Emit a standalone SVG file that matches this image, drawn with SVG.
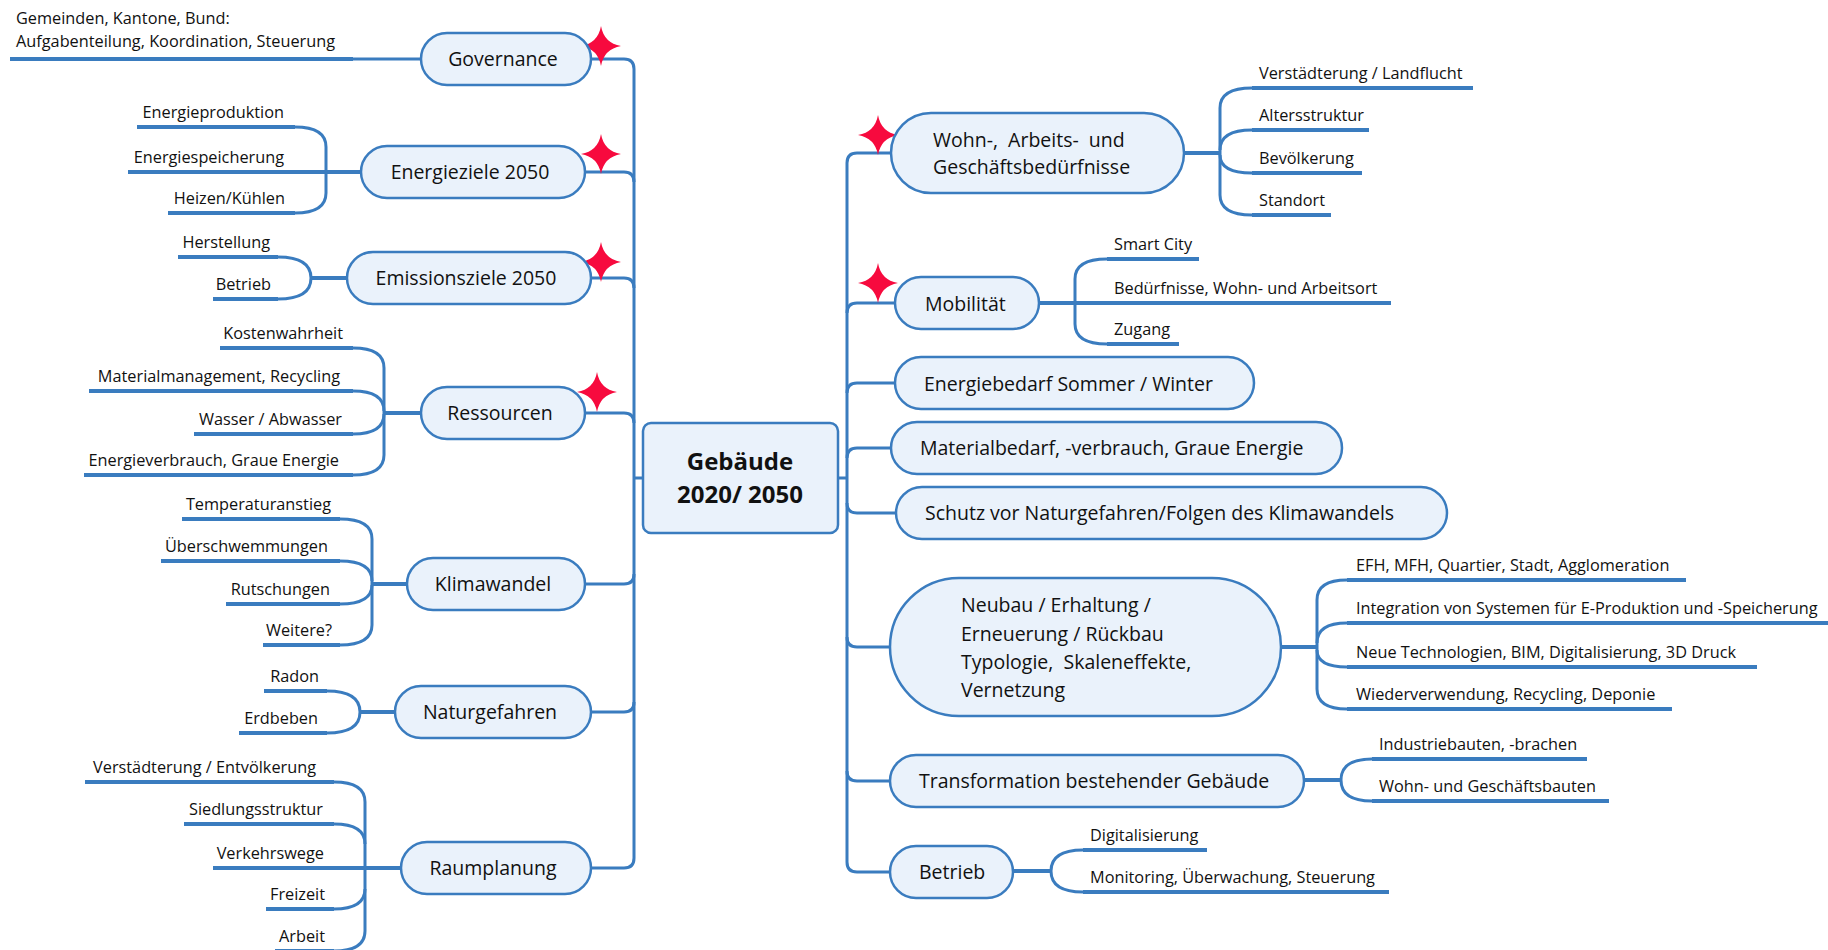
<svg xmlns="http://www.w3.org/2000/svg" xmlns:xlink="http://www.w3.org/1999/xlink" width="1828" height="950" viewBox="0 0 1828 950">
  <defs>
    <style>
      .bg { fill: #ffffff; }
      .con { fill: none; stroke: #3a7cbf; stroke-width: 3; stroke-linecap: butt; }
      .stub { fill: none; stroke: #3a7cbf; stroke-width: 4; }
      .ul { fill: none; stroke: #3a7cbf; stroke-width: 4; }
      .box { fill: #eaf2fb; stroke: #3a7cbf; stroke-width: 2.5; }
      .t { font-family: "Open Sans", "Noto Sans", "DejaVu Sans", sans-serif; fill: #111111; }
      .main { font-size: 19.5px; }
      .sub { font-size: 16.3px; }
      .mid { text-anchor: middle; }
      .end { text-anchor: end; }
      .root { font-size: 24px; font-weight: bold; text-anchor: middle; }
      .star { fill: #f70a3e; }
    </style>
    <path id="star" class="star" d="M0,-20 Q3,-3 20,0 Q3,3 0,20 Q-3,3 -20,0 Q-3,-3 0,-20 Z"/>
  </defs>

  <rect class="bg" x="0" y="0" width="1828" height="950"/>

  <!-- trunks, branch curves and bracket connectors -->
  <g id="connectors">
    <!-- left trunk -->
    <path class="con" d="M591,59 H624 Q634,59 634,69 V858 Q634,868 624,868 H591"/>
    <path class="con" d="M585,172 H624 Q634,172 634,182"/>
    <path class="con" d="M591,278 H624 Q634,278 634,288"/>
    <path class="con" d="M585,413 H624 Q634,413 634,423"/>
    <path class="con" d="M585,584 H624 Q634,584 634,574"/>
    <path class="con" d="M591,712 H624 Q634,712 634,702"/>
    <path class="con" d="M634,478 H643"/>
    <!-- right trunk -->
    <path class="con" d="M891,153 H857 Q847,153 847,163 V862 Q847,872 857,872 H890"/>
    <path class="con" d="M895,303 H857 Q847,303 847,313"/>
    <path class="con" d="M895,383 H857 Q847,383 847,393"/>
    <path class="con" d="M891,448 H857 Q847,448 847,458"/>
    <path class="con" d="M896,513 H857 Q847,513 847,503"/>
    <path class="con" d="M890,647 H857 Q847,647 847,637"/>
    <path class="con" d="M890,781 H857 Q847,781 847,771"/>
    <path class="con" d="M838,478 H847"/>

    <!-- Governance -->
    <path class="con" d="M353,59 H421"/>
    <!-- Energieziele 2050 -->
    <path class="con" d="M295,127 Q326,127 326,147 V193 Q326,213 295,213"/>
    <path class="stub" d="M295,172 H361"/>
    <!-- Emissionsziele 2050 -->
    <path class="con" d="M278,257 Q311,257 311,278 Q311,299 278,299"/>
    <path class="stub" d="M311,278 H347"/>
    <!-- Ressourcen -->
    <path class="con" d="M353,348 Q384,348 384,368 V455 Q384,475 353,475"/>
    <path class="con" d="M353,391 Q384,391 384,411"/>
    <path class="con" d="M353,434 Q384,434 384,414"/>
    <path class="stub" d="M384,413 H421"/>
    <!-- Klimawandel -->
    <path class="con" d="M340,519 Q372,519 372,539 V625 Q372,645 340,645"/>
    <path class="con" d="M340,561 Q372,561 372,581"/>
    <path class="con" d="M340,604 Q372,604 372,585"/>
    <path class="stub" d="M372,584 H407"/>
    <!-- Naturgefahren -->
    <path class="con" d="M327,691 Q360,691 360,712 Q360,733 327,733"/>
    <path class="stub" d="M360,712 H395"/>
    <!-- Raumplanung -->
    <path class="con" d="M334,782 Q365,782 365,802 V931 Q365,951 334,951"/>
    <path class="con" d="M334,824 Q365,824 365,844"/>
    <path class="con" d="M334,909 Q365,909 365,889"/>
    <path class="stub" d="M334,868 H401"/>

    <!-- Wohn-, Arbeits- und Geschäftsbedürfnisse -->
    <path class="con" d="M1252,88 Q1220,88 1220,108 V195 Q1220,215 1252,215"/>
    <path class="con" d="M1252,130 Q1220,130 1220,150"/>
    <path class="con" d="M1252,173 Q1220,173 1220,155"/>
    <path class="stub" d="M1184,153 H1220"/>
    <!-- Mobilität -->
    <path class="con" d="M1107,259 Q1075,259 1075,279 V324 Q1075,344 1107,344"/>
    <path class="stub" d="M1039,303 H1107"/>
    <!-- Neubau / Erhaltung -->
    <path class="con" d="M1347,580 Q1317,580 1317,600 V689 Q1317,709 1347,709"/>
    <path class="con" d="M1347,623 Q1317,623 1317,643"/>
    <path class="con" d="M1347,667 Q1317,667 1317,650"/>
    <path class="stub" d="M1281,647 H1317"/>
    <!-- Transformation bestehender Gebäude -->
    <path class="con" d="M1372,759 Q1341,759 1341,780 Q1341,801 1372,801"/>
    <path class="stub" d="M1304,780 H1341"/>
    <!-- Betrieb -->
    <path class="con" d="M1083,850 Q1051,850 1051,871 Q1051,892 1083,892"/>
    <path class="stub" d="M1013,871 H1051"/>
  </g>

  <!-- priority markers (drawn under the topic boxes) -->
  <g id="markers">
    <use xlink:href="#star" x="601" y="46"/>
    <use xlink:href="#star" x="601" y="154"/>
    <use xlink:href="#star" x="601" y="262"/>
    <use xlink:href="#star" x="597" y="392"/>
    <use xlink:href="#star" x="878" y="135"/>
    <use xlink:href="#star" x="878" y="283"/>
  </g>

  <!-- central topic -->
  <g id="n-gebaeude">
    <rect class="box" x="643" y="423" width="195" height="110" rx="8"/>
    <text class="t root" x="740" y="470">Gebäude</text>
    <text class="t root" x="740" y="503">2020/ 2050</text>
  </g>

  <!-- left main topics -->
  <g id="n-governance">
    <rect class="box" x="421" y="33" width="170" height="52" rx="26"/>
    <text class="t main mid" x="503" y="66">Governance</text>
  </g>
  <g id="n-energieziele">
    <rect class="box" x="361" y="146" width="224" height="52" rx="26"/>
    <text class="t main mid" x="470" y="179">Energieziele 2050</text>
  </g>
  <g id="n-emissionsziele">
    <rect class="box" x="347" y="252" width="244" height="52" rx="26"/>
    <text class="t main mid" x="466" y="285">Emissionsziele 2050</text>
  </g>
  <g id="n-ressourcen">
    <rect class="box" x="421" y="387" width="164" height="52" rx="26"/>
    <text class="t main mid" x="500" y="420">Ressourcen</text>
  </g>
  <g id="n-klimawandel">
    <rect class="box" x="407" y="558" width="178" height="52" rx="26"/>
    <text class="t main mid" x="493" y="591">Klimawandel</text>
  </g>
  <g id="n-naturgefahren">
    <rect class="box" x="395" y="686" width="196" height="52" rx="26"/>
    <text class="t main mid" x="490" y="719">Naturgefahren</text>
  </g>
  <g id="n-raumplanung">
    <rect class="box" x="401" y="842" width="190" height="52" rx="26"/>
    <text class="t main mid" x="493" y="875">Raumplanung</text>
  </g>

  <!-- right main topics -->
  <g id="n-wohn">
    <rect class="box" x="891" y="113" width="293" height="80" rx="40"/>
    <text class="t main" x="933" y="147">Wohn-,&#160; Arbeits-&#160; und</text>
    <text class="t main" x="933" y="174">Geschäftsbedürfnisse</text>
  </g>
  <g id="n-mobilitaet">
    <rect class="box" x="895" y="277" width="144" height="52" rx="26"/>
    <text class="t main" x="925" y="311">Mobilität</text>
  </g>
  <g id="n-energiebedarf">
    <rect class="box" x="895" y="357" width="359" height="52" rx="26"/>
    <text class="t main" x="924" y="391">Energiebedarf Sommer / Winter</text>
  </g>
  <g id="n-materialbedarf">
    <rect class="box" x="891" y="422" width="451" height="52" rx="26"/>
    <text class="t main" x="920" y="455">Materialbedarf, -verbrauch, Graue Energie</text>
  </g>
  <g id="n-schutz">
    <rect class="box" x="896" y="487" width="551" height="52" rx="26"/>
    <text class="t main" x="925" y="520">Schutz vor Naturgefahren/Folgen des Klimawandels</text>
  </g>
  <g id="n-neubau">
    <rect class="box" x="890" y="578" width="391" height="138" rx="69"/>
    <text class="t main" x="961" y="612">Neubau / Erhaltung /</text>
    <text class="t main" x="961" y="641">Erneuerung / Rückbau</text>
    <text class="t main" x="961" y="669">Typologie,&#160; Skaleneffekte,</text>
    <text class="t main" x="961" y="697">Vernetzung</text>
  </g>
  <g id="n-transformation">
    <rect class="box" x="890" y="755" width="414" height="52" rx="26"/>
    <text class="t main" x="919" y="788">Transformation bestehender Gebäude</text>
  </g>
  <g id="n-betrieb">
    <rect class="box" x="890" y="846" width="123" height="52" rx="26"/>
    <text class="t main" x="919" y="879">Betrieb</text>
  </g>

  <!-- left sub-topics -->
  <g id="s-governance">
    <text class="t sub" x="16" y="24">Gemeinden, Kantone, Bund:</text>
    <text class="t sub" x="16" y="47">Aufgabenteilung, Koordination, Steuerung</text>
    <path class="ul" d="M10,59 H353"/>
  </g>
  <g id="s-energieproduktion"><text class="t sub end" x="284" y="118">Energieproduktion</text><path class="ul" d="M137,127 H295"/></g>
  <g id="s-energiespeicherung"><text class="t sub end" x="284" y="163">Energiespeicherung</text><path class="ul" d="M128,172 H295"/></g>
  <g id="s-heizen"><text class="t sub end" x="285" y="204">Heizen/Kühlen</text><path class="ul" d="M168,213 H295"/></g>
  <g id="s-herstellung"><text class="t sub end" x="270" y="248">Herstellung</text><path class="ul" d="M178,257 H278"/></g>
  <g id="s-betrieb-em"><text class="t sub end" x="271" y="290">Betrieb</text><path class="ul" d="M213,299 H278"/></g>
  <g id="s-kostenwahrheit"><text class="t sub end" x="343" y="339">Kostenwahrheit</text><path class="ul" d="M220,348 H353"/></g>
  <g id="s-materialmanagement"><text class="t sub end" x="340" y="382">Materialmanagement, Recycling</text><path class="ul" d="M89,391 H353"/></g>
  <g id="s-wasser"><text class="t sub end" x="342" y="425">Wasser / Abwasser</text><path class="ul" d="M194,434 H353"/></g>
  <g id="s-energieverbrauch"><text class="t sub end" x="339" y="466">Energieverbrauch, Graue Energie</text><path class="ul" d="M84,475 H353"/></g>
  <g id="s-temperatur"><text class="t sub end" x="331" y="510">Temperaturanstieg</text><path class="ul" d="M182,519 H340"/></g>
  <g id="s-ueberschwemmungen"><text class="t sub end" x="328" y="552">Überschwemmungen</text><path class="ul" d="M161,561 H340"/></g>
  <g id="s-rutschungen"><text class="t sub end" x="330" y="595">Rutschungen</text><path class="ul" d="M226,604 H340"/></g>
  <g id="s-weitere"><text class="t sub end" x="332" y="636">Weitere?</text><path class="ul" d="M263,645 H340"/></g>
  <g id="s-radon"><text class="t sub end" x="319" y="682">Radon</text><path class="ul" d="M264,691 H327"/></g>
  <g id="s-erdbeben"><text class="t sub end" x="318" y="724">Erdbeben</text><path class="ul" d="M239,733 H327"/></g>
  <g id="s-verstaedterung-ent"><text class="t sub end" x="316" y="773">Verstädterung / Entvölkerung</text><path class="ul" d="M85,782 H334"/></g>
  <g id="s-siedlung"><text class="t sub end" x="323" y="815">Siedlungsstruktur</text><path class="ul" d="M184,824 H334"/></g>
  <g id="s-verkehr"><text class="t sub end" x="324" y="859">Verkehrswege</text><path class="ul" d="M213,868 H334"/></g>
  <g id="s-freizeit"><text class="t sub end" x="325" y="900">Freizeit</text><path class="ul" d="M266,909 H334"/></g>
  <g id="s-arbeit"><text class="t sub end" x="325" y="942">Arbeit</text><path class="ul" d="M275,951 H334"/></g>

  <!-- right sub-topics -->
  <g id="s-landflucht"><text class="t sub" x="1259" y="79">Verstädterung / Landflucht</text><path class="ul" d="M1252,88 H1473"/></g>
  <g id="s-alter"><text class="t sub" x="1259" y="121">Altersstruktur</text><path class="ul" d="M1252,130 H1369"/></g>
  <g id="s-bevoelkerung"><text class="t sub" x="1259" y="164">Bevölkerung</text><path class="ul" d="M1252,173 H1362"/></g>
  <g id="s-standort"><text class="t sub" x="1259" y="206">Standort</text><path class="ul" d="M1252,215 H1331"/></g>
  <g id="s-smartcity"><text class="t sub" x="1114" y="250">Smart City</text><path class="ul" d="M1107,259 H1199"/></g>
  <g id="s-beduerfnisse"><text class="t sub" x="1114" y="294">Bedürfnisse, Wohn- und Arbeitsort</text><path class="ul" d="M1107,303 H1391"/></g>
  <g id="s-zugang"><text class="t sub" x="1114" y="335">Zugang</text><path class="ul" d="M1107,344 H1179"/></g>
  <g id="s-efh"><text class="t sub" x="1356" y="571">EFH, MFH, Quartier, Stadt, Agglomeration</text><path class="ul" d="M1347,580 H1686"/></g>
  <g id="s-integration"><text class="t sub" x="1356" y="614">Integration von Systemen für E-Produktion und -Speicherung</text><path class="ul" d="M1347,623 H1830"/></g>
  <g id="s-technologien"><text class="t sub" x="1356" y="658">Neue Technologien, BIM, Digitalisierung, 3D Druck</text><path class="ul" d="M1347,667 H1757"/></g>
  <g id="s-wiederverwendung"><text class="t sub" x="1356" y="700">Wiederverwendung, Recycling, Deponie</text><path class="ul" d="M1347,709 H1672"/></g>
  <g id="s-industrie"><text class="t sub" x="1379" y="750">Industriebauten, -brachen</text><path class="ul" d="M1372,759 H1587"/></g>
  <g id="s-wohnbauten"><text class="t sub" x="1379" y="792">Wohn- und Geschäftsbauten</text><path class="ul" d="M1372,801 H1609"/></g>
  <g id="s-digitalisierung"><text class="t sub" x="1090" y="841">Digitalisierung</text><path class="ul" d="M1083,850 H1207"/></g>
  <g id="s-monitoring"><text class="t sub" x="1090" y="883">Monitoring, Überwachung, Steuerung</text><path class="ul" d="M1083,892 H1389"/></g>
</svg>
